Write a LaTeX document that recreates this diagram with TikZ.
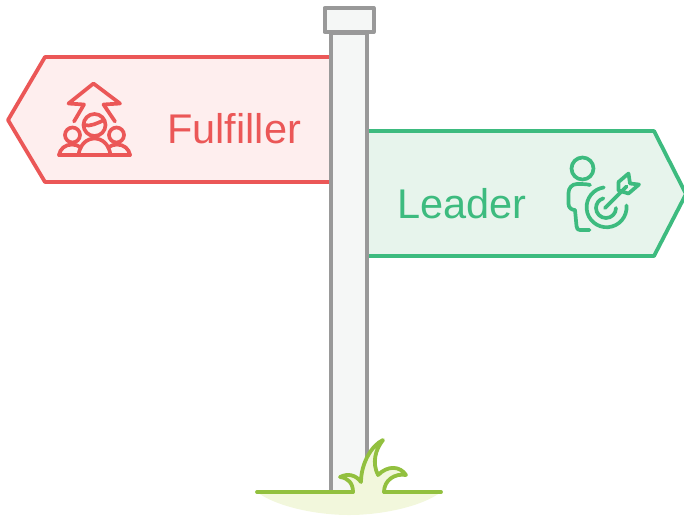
\documentclass[tikz,border=0pt]{standalone}
\usepackage{fontspec}
\setmainfont{Liberation Sans}
\definecolor{fulred}{HTML}{EB5757}
\definecolor{fulpink}{HTML}{FEEEEE}
\definecolor{leadgreen}{HTML}{3DBB7F}
\definecolor{leadpale}{HTML}{E7F4EC}
\definecolor{postgray}{HTML}{999999}
\definecolor{postfill}{HTML}{F5F7F6}
\definecolor{grassgreen}{HTML}{92C03F}
\definecolor{grasspale}{HTML}{F2F7DC}
\tikzset{
	signline/.style={line width=3.8pt, line join=round, line cap=round},
	iconline/.style={line width=3.7pt, line join=round, line cap=round},
	signtext/.style={font=\fontsize{41.5}{41.5}\selectfont, inner sep=0pt},
}

\begin{document}
\begin{tikzpicture}[x=1pt, y=-1pt]
	\useasboundingbox (0,0) rectangle (684,515);
	% signs
	\draw[signline, fulred, fill=fulpink] (330,57) -- (45,57) -- (8,120) -- (45,182) -- (330,182);
	\draw[signline, leadgreen, fill=leadpale] (367,131) -- (654,131) -- (686,194) -- (654,256) -- (367,256);
	% post
	\fill[grasspale] (257,492) .. controls (275,506) and (315,515) .. (349,515) .. controls (383,515) and (423,506) .. (441,492) -- cycle;
	\draw[postgray, line width=4pt, fill=postfill] (330.5,492) -- (330.5,33) -- (367,33) -- (367,492);
	\draw[postgray, line width=4pt, fill=postfill, line join=round] (324.5,8) rectangle (373.5,32);
	% grass
	\draw[grassgreen, signline, fill=grasspale] (353,492) .. controls (353,483) and (348,478) .. (340,477) .. controls (348,473) and (356,475) .. (361,482) .. controls (361,463) and (372,445) .. (383,440) .. controls (375,450) and (372,463) .. (378,475) .. controls (388,465) and (400,466) .. (406,475) .. controls (395,473) and (384,480) .. (384,492);
	\draw[grassgreen, signline] (257,492) -- (353,492) (384,492) -- (441,492);
	% labels
	\node[signtext, fulred, anchor=west] (fulfiller) at (167,129) {Fulfiller};
	\node[signtext, leadgreen, anchor=west] (leader) at (397,204) {Leader};
	% fulfiller icon
	\begin{scope}[iconline, fulred]
		\draw (74,121.5) -- (84,104.5) -- (68.5,103.5) -- (93.5,83.5) -- (120,103.5) -- (103.5,104.5) -- (115,121.5);
		\draw (94.5,125) circle (11);
		\draw (84,125) .. controls (90,127) and (98,123) .. (104,120);
		\draw (72.5,135) circle (7.5);
		\draw (116.5,135) circle (7.5);
		\draw (59,155) -- (130,155);
		\draw (78.5,155) .. controls (80,144) and (87,138.5) .. (94.5,138.5) .. controls (102,138.5) and (109,144) .. (110.5,155);
		\draw (59,155) .. controls (60,149) and (65,144.5) .. (72,144.5) .. controls (75,144.5) and (78,145.5) .. (81,147.5);
		\draw (130,155) .. controls (129,149) and (124,144.5) .. (117,144.5) .. controls (114,144.5) and (111,145.5) .. (108,147.5);
	\end{scope}
	% leader icon
	\begin{scope}[iconline, leadgreen]
		\draw (582.5,168.5) circle (11);
		\draw (590,185) .. controls (587,184) and (582,184) .. (577,184) .. controls (572,184) and (568.5,188) .. (568.5,193) -- (568.5,204) .. controls (568.5,208) and (572,210) .. (575,210) -- (576.5,226) .. controls (576.5,229) and (578,230) .. (580,230) -- (589.5,230);
		\draw (626.5,205.5) arc[start angle=-5, end angle=262, radius=20];
		\draw (616,208) arc[start angle=0, end angle=255, radius=10];
		\draw (605,208) -- (626.5,186.5);
		\draw (618.5,182) -- (628.5,173.5) -- (630,183.5) -- (639,184.5) -- (628.5,193.5) -- (618.5,190.5) -- cycle;
	\end{scope}
\end{tikzpicture}
\end{document}
